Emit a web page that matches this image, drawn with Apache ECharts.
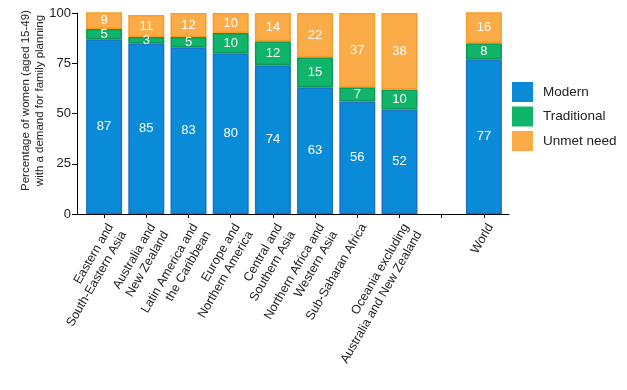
<!DOCTYPE html>
<html>
<head>
<meta charset="utf-8">
<script src="https://cdn.jsdelivr.net/npm/echarts@6/dist/echarts.min.js"></script>
<style>
html,body{margin:0;padding:0;background:#fff;}
#chart{width:627px;height:390px;}
</style>
</head>
<body>
<div id="chart"></div>
<script>
const categories = [
  'Eastern and\nSouth-Eastern Asia',
  'Australia and\nNew Zealand',
  'Latin America and\nthe Caribbean',
  'Europe and\nNorthern America',
  'Central and\nSouthern Asia',
  'Northern Africa and\nWestern Asia',
  'Sub-Saharan Africa',
  'Oceania excluding\nAustralia and New Zealand',
  '',
  'World'
];
const modern      = [87, 85, 83, 80, 74, 63, 56, 52, null, 77];
const traditional = [5, 3, 5, 10, 12, 15, 7, 10, null, 8];
const unmet       = [9, 11, 12, 10, 14, 22, 37, 38, null, 16];
const seriesNames = ['Modern', 'Traditional', 'Unmet need'];
const yTicks = [0, 25, 50, 75, 100];

const font = '"Liberation Sans", Arial, Helvetica, sans-serif';
const fills   = ['#0a8bd8', '#10b46a', '#fbab47'];
const borders = ['#1f6fc4', '#0b9a52', '#f79d2a'];

const chart = echarts.init(document.getElementById('chart'), null, {renderer: 'canvas'});

function mkSeries(name, data, i) {
  return {
    name: name,
    type: 'bar',
    stack: 'total',
    data: data,
    barWidth: 36,
    xAxisIndex: 0,
    yAxisIndex: 0,
    itemStyle: {color: fills[i], borderColor: borders[i], borderWidth: 1.5},
    label: {show: true, position: 'inside', color: '#fff', fontSize: 13, fontFamily: font},
    emphasis: {disabled: true}
  };
}

const option = {
  animation: false,
  textStyle: {fontFamily: font},
  grid: [
    {left: 83, right: 122, top: 13, bottom: 176, containLabel: false},
    {left: 77, right: 118, top: 13, bottom: 176, containLabel: false}
  ],
  legend: {
    orient: 'vertical',
    left: 507,
    top: 77,
    itemWidth: 21,
    itemHeight: 20,
    itemGap: 4.5,
    icon: 'rect',
    data: seriesNames,
    textStyle: {fontSize: 13.5, color: '#222', fontFamily: font, padding: [0, 0, 0, 5]},
    itemStyle: {borderWidth: 0}
  },
  xAxis: [
    {
      type: 'category',
      gridIndex: 0,
      data: categories,
      axisLine: {show: false},
      axisTick: {show: true, alignWithLabel: true, length: 4, lineStyle: {color: '#000'}},
      axisLabel: {interval: 0, rotate: 60, fontSize: 12.5, color: '#222', margin: 7, fontFamily: font, lineHeight: 15, verticalAlign: 'top'}
    },
    {
      type: 'value',
      gridIndex: 1,
      min: 0, max: 1,
      axisLine: {show: true, lineStyle: {color: '#000', width: 1}},
      axisTick: {show: false},
      axisLabel: {show: false},
      splitLine: {show: false}
    }
  ],
  yAxis: [
    {
      type: 'value',
      gridIndex: 0,
      min: 0, max: 100, interval: 25,
      offset: 6,
      name: 'Percentage of women (aged 15-49)\nwith a demand for family planning',
      nameLocation: 'middle',
      nameRotate: 90,
      nameGap: 30,
      nameMoveOverlap: false,
      nameTextStyle: {fontSize: 11.5, color: '#222', fontFamily: font, lineHeight: 14, padding: [0, 0, 0, 26]},
      axisLine: {show: true, lineStyle: {color: '#000', width: 1}},
      axisTick: {show: true, length: 5, lineStyle: {color: '#000'}},
      axisLabel: {fontSize: 13, color: '#222', margin: 6, fontFamily: font,
        customValues: yTicks},
      splitLine: {show: false}
    },
    {
      type: 'value',
      gridIndex: 1,
      show: false
    }
  ],
  series: [
    mkSeries(seriesNames[0], modern, 0),
    mkSeries(seriesNames[1], traditional, 1),
    mkSeries(seriesNames[2], unmet, 2)
  ]
};
chart.setOption(option);
</script>
</body>
</html>
